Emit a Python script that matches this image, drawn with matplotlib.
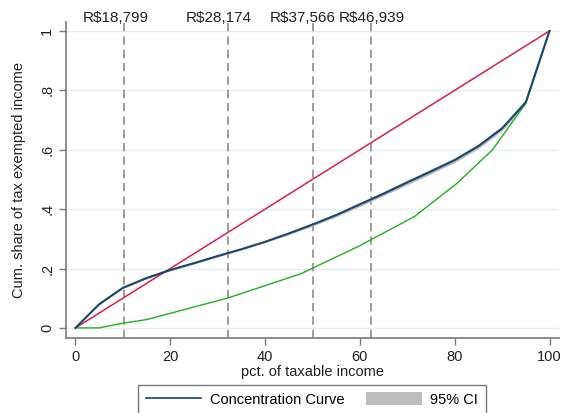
import numpy as np
import matplotlib.pyplot as plt
from matplotlib.patches import Patch
from matplotlib.lines import Line2D

plt.rcParams['font.family'] = ['Liberation Sans', 'DejaVu Sans']

# concentration curve of exempted income (vigintiles of taxable income)
cc_x = [0, 5, 10, 15, 20, 25, 30, 35, 40, 45, 50, 55, 60, 65, 70, 75, 80, 85, 90, 95, 100]
cc_y = [0, 0.08, 0.135, 0.168, 0.195, 0.218, 0.242, 0.265, 0.29, 0.318, 0.348,
        0.38, 0.416, 0.452, 0.49, 0.527, 0.565, 0.612, 0.672, 0.76, 1.0]
cc_lo = [0, 0.078, 0.132, 0.165, 0.192, 0.215, 0.239, 0.262, 0.287, 0.314, 0.343,
         0.374, 0.409, 0.445, 0.482, 0.519, 0.557, 0.604, 0.664, 0.754, 1.0]
cc_hi = [0, 0.082, 0.138, 0.171, 0.198, 0.221, 0.245, 0.268, 0.293, 0.322, 0.353,
         0.386, 0.423, 0.459, 0.498, 0.535, 0.573, 0.620, 0.680, 0.766, 1.0]

# lorenz curve of taxable income
lz_x = [0, 5, 10, 15, 32, 47.5, 60, 71.5, 80.5, 88, 95, 100]
lz_y = [0, 0, 0.016, 0.028, 0.1, 0.182, 0.277, 0.375, 0.487, 0.6, 0.757, 1.0]

# income thresholds and where their labels sit
cut_x = [10.3, 32.1, 50.0, 62.4]
cut_lab = ['R$18,799', 'R$28,174', 'R$37,566', 'R$46,939']
lab_x = [8.6, 30.3, 48.0, 62.55]

fig = plt.figure(figsize=(5.63, 4.13), dpi=100)
ax = fig.add_axes([66/563, 1 - 338/413, 493/563, 316/413])

navy = '#1a476f'
txt = '#222222'
fs = 10.5
ax.fill_between(cc_x, cc_lo, cc_hi, color='#bdbdbd', lw=0, zorder=2)
ax.plot(cc_x, cc_y, color=navy, lw=1.5, zorder=4)
ax.plot([0, 100], [0, 1], color='#d81e4a', lw=1.1, zorder=3)
ax.plot(lz_x, lz_y, color='#1fb01f', lw=1.0, zorder=3)

for x in cut_x:
    ax.axvline(x, color='#8c8c8c', lw=1.2, ls=(0, (5, 3)), zorder=1)
for x, lab in zip(lab_x, cut_lab):
    ax.text(x, 1.031, lab, ha='center', va='baseline', fontsize=fs + 0.5, color=txt,
            clip_on=False)

ax.set_xlim(-2, 102)
ax.set_ylim(-0.034, 1.03)
ax.set_xticks([0, 20, 40, 60, 80, 100])
ax.set_yticks([0, 0.2, 0.4, 0.6, 0.8, 1])
ax.set_yticklabels(['0', '.2', '.4', '.6', '.8', '1'], rotation=90, va='center')
ax.grid(axis='y', color='#e8eff2', lw=1)
ax.set_axisbelow(True)
for s in ['top', 'right']:
    ax.spines[s].set_visible(False)
for s in ['left', 'bottom']:
    ax.spines[s].set_color('#7a7a7a')
    ax.spines[s].set_linewidth(1.2)
ax.tick_params(length=5, width=1, color='#7a7a7a', labelsize=fs, labelcolor=txt)
ax.set_xlabel('pct. of taxable income', fontsize=fs, color=txt, labelpad=1)
ax.set_ylabel('Cum. share of tax exempted income', fontsize=fs, color=txt, labelpad=10)

handles = [Line2D([], [], color=navy, lw=1.2),
           Patch(facecolor='#bdbdbd', edgecolor='none')]
leg = fig.legend(handles, ['Concentration Curve', '95% CI'], ncol=2,
                 loc='upper center', bbox_to_anchor=(312/563, 1 - 385/413),
                 borderaxespad=0, frameon=True, fancybox=False, fontsize=fs,
                 handlelength=3.8, handleheight=1.0, columnspacing=1.5,
                 borderpad=0.5, handletextpad=0.6)
leg.get_frame().set_edgecolor('#555555')
leg.get_frame().set_linewidth(1.0)

fig.savefig('out.png', dpi=100)
